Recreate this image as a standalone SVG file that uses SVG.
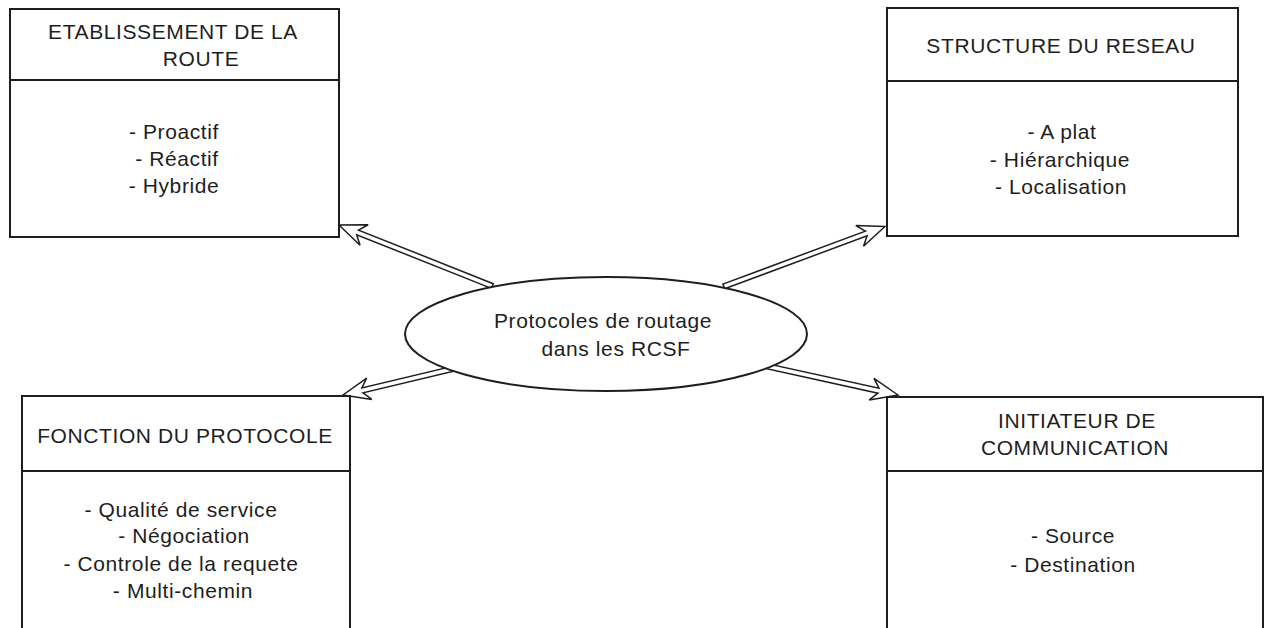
<svg xmlns="http://www.w3.org/2000/svg" width="1265" height="628" viewBox="0 0 1265 628">
<style>
.box{fill:#fff;stroke:#1e1e1e;stroke-width:2}
.div{stroke:#1e1e1e;stroke-width:2}
.t{font-family:"Liberation Sans",Arial,sans-serif;font-size:21px;fill:#1e1e1e;text-anchor:middle;letter-spacing:0.6px}
.arr{fill:#fff;stroke:#1e1e1e;stroke-width:1.5;stroke-linejoin:miter}
</style>
<rect width="1265" height="628" fill="#fff"/>
<g id="connectors">
<path class="arr" transform="translate(339,225) rotate(201.7)" d="M0,0 L-27,-11 L-20,-2.5 L-165,-2.5 L-165,2.5 L-20,2.5 L-27,11 Z"/>
<path class="arr" transform="translate(885,226.5) rotate(-20.4)" d="M0,0 L-27,-11 L-20,-2.5 L-172,-2.5 L-172,2.5 L-20,2.5 L-27,11 Z"/>
<path class="arr" transform="translate(343,395) rotate(166.6)" d="M0,0 L-27,-11 L-20,-2.5 L-112,-2.5 L-112,2.5 L-20,2.5 L-27,11 Z"/>
<path class="arr" transform="translate(898,395) rotate(12.4)" d="M0,0 L-27,-11 L-20,-2.5 L-135,-2.5 L-135,2.5 L-20,2.5 L-27,11 Z"/>
</g>
<g id="center">
<ellipse cx="606" cy="334" rx="201" ry="57" fill="#fff" stroke="#1e1e1e" stroke-width="2"/>
<text class="t" x="603" y="328">Protocoles de routage</text>
<text class="t" x="616" y="356">dans les RCSF</text>
</g>
<g id="etablissement">
<rect class="box" x="10" y="9" width="329" height="228"/>
<line class="div" x1="10" y1="80" x2="339" y2="80"/>
<text class="t" x="173" y="39">ETABLISSEMENT DE LA</text>
<text class="t" x="201" y="66">ROUTE</text>
<text class="t" x="174" y="139">- Proactif</text>
<text class="t" x="177" y="166">- Réactif</text>
<text class="t" x="174" y="193">- Hybride</text>
</g>
<g id="structure">
<rect class="box" x="887" y="8" width="351" height="228"/>
<line class="div" x1="887" y1="81" x2="1238" y2="81"/>
<text class="t" x="1061" y="53">STRUCTURE DU RESEAU</text>
<text class="t" x="1062" y="139">- A plat</text>
<text class="t" x="1060" y="167">- Hiérarchique</text>
<text class="t" x="1061" y="194">- Localisation</text>
</g>
<g id="fonction">
<rect class="box" x="22" y="396" width="328" height="250"/>
<line class="div" x1="22" y1="471" x2="350" y2="471"/>
<text class="t" x="185" y="443">FONCTION DU PROTOCOLE</text>
<text class="t" x="181" y="517">- Qualité de service</text>
<text class="t" x="184" y="543">- Négociation</text>
<text class="t" x="181" y="571">- Controle de la requete</text>
<text class="t" x="183" y="598">- Multi-chemin</text>
</g>
<g id="initiateur">
<rect class="box" x="887" y="397" width="376" height="250"/>
<line class="div" x1="887" y1="471" x2="1263" y2="471"/>
<text class="t" x="1077" y="428">INITIATEUR DE</text>
<text class="t" x="1075" y="455">COMMUNICATION</text>
<text class="t" x="1073" y="543">- Source</text>
<text class="t" x="1073" y="572">- Destination</text>
</g>
</svg>
